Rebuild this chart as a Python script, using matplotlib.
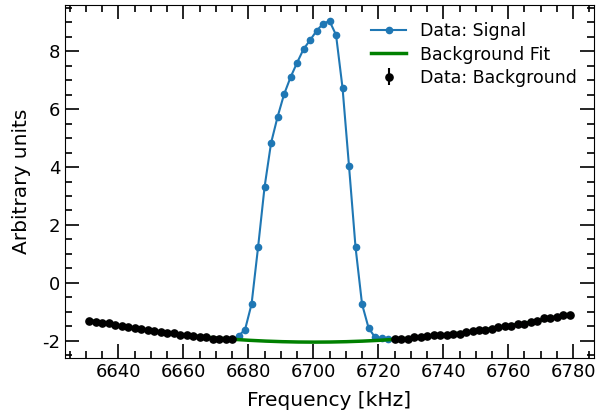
import numpy as np
import matplotlib
matplotlib.use('Agg')
import matplotlib.pyplot as plt
from matplotlib.ticker import MultipleLocator

plt.rcParams['axes.unicode_minus'] = False

# background data (outside the resonance)
bg_freq_left = np.arange(6631, 6676, 2)
bg_left = [-1.30, -1.35, -1.40, -1.37, -1.47, -1.48, -1.51, -1.56, -1.58, -1.64,
           -1.66, -1.69, -1.73, -1.72, -1.79, -1.81, -1.83, -1.87, -1.87, -1.92,
           -1.93, -1.93, -1.95]
bg_freq_right = np.arange(6725, 6780, 2)
bg_right = [-1.94, -1.92, -1.93, -1.88, -1.86, -1.85, -1.81, -1.81, -1.79, -1.75,
            -1.75, -1.71, -1.67, -1.64, -1.64, -1.60, -1.52, -1.50, -1.48, -1.43,
            -1.41, -1.36, -1.32, -1.22, -1.20, -1.18, -1.11, -1.11]

# signal data
sig_freq = np.arange(6677, 6724, 2)
sig = [-1.83, -1.61, -0.73, 1.23, 3.31, 4.83, 5.73, 6.51, 7.10, 7.60, 8.07, 8.38,
       8.70, 8.95, 9.04, 8.56, 6.73, 4.02, 1.23, -0.73, -1.55, -1.88, -1.90, -1.92]

bg_freq = np.concatenate([bg_freq_left, bg_freq_right])
bg = np.concatenate([bg_left, bg_right])
bg_err = 0.03

# quadratic background fit
coef = np.polyfit(bg_freq, bg, 2)
f_fit = np.linspace(bg_freq.min(), bg_freq.max(), 300)
fit = np.polyval(coef, f_fit)

fig = plt.figure(figsize=(5.97, 4.16), dpi=100)
ax = fig.add_axes([0.109, 0.139, 0.886, 0.849])

ax.plot(sig_freq, sig, '-o', color='#1f77b4', lw=1.5, ms=4.5, label='Data: Signal')
ax.plot(f_fit, fit, color='green', lw=2.5, label='Background Fit')
ax.errorbar(bg_freq, bg, yerr=bg_err, fmt='o', color='black', ms=5.2,
            label='Data: Background')

ax.xaxis.set_major_locator(MultipleLocator(20))
ax.xaxis.set_minor_locator(MultipleLocator(5))
ax.yaxis.set_major_locator(MultipleLocator(2))
ax.yaxis.set_minor_locator(MultipleLocator(0.5))
ax.tick_params(which='both', direction='in', top=True, right=True, labelsize=13)
ax.tick_params(which='major', length=10, width=1.2)
ax.tick_params(which='minor', length=5, width=1.2)

ax.set_xlabel('Frequency [kHz]', fontsize=14.5, labelpad=7)
ax.set_ylabel('Arbitrary units', fontsize=14.5, labelpad=8)
ax.legend(loc='upper right', frameon=False, fontsize=12.5, labelspacing=0.3,
          handlelength=2.0, borderaxespad=0.6)

plt.savefig('out.png', dpi=100)
